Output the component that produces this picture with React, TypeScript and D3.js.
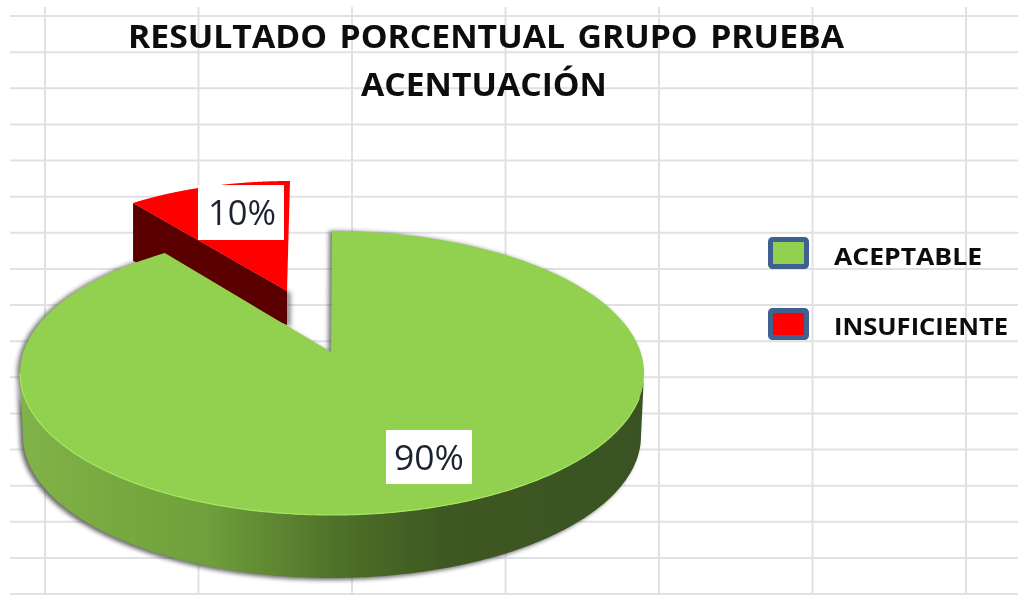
import * as d3 from 'd3';

const categories = ['ACEPTABLE', 'INSUFICIENTE'];
const values = [90, 10];
const valueLabels = ['90%', '10%'];
const sliceColors = ['#92d050', '#ff0000'];
const sideColors = ['#7db043', '#5a0000'];
const titleLines = ['RESULTADO  PORCENTUAL  GRUPO  PRUEBA', 'ACENTUACIÓN'];

const W = 1018;
const H = 595;
const toRad = Math.PI / 180;

// perspectiva a ojo: cada porción tiene su propia elipse
const greenPie = { cx: 332, cy: 373, rx: 312, ry: 142, apexX: 331, apexY: 352, depth: 63 };
const redPie = { cx: 290, cy: 296, rx: 267, ry: 115, apexX: 287, apexY: 291, depth: 34 };
// la perspectiva comprime el borde de la porción verde
const rimTrim = 3.6 * toRad;
// la base se ve un poco más estrecha que la cara superior
const baseInset = 3;

type Geo = typeof greenPie;

const rim = (g: Geo, a: number, dy = 0): [number, number] => [
  g.cx + g.rx * Math.sin(a),
  g.cy - g.ry * Math.cos(a) + dy,
];

const line = d3.line();

export default function App() {
  const x = d3.scaleLinear().domain([0, 6]).range([45, 966]);
  const y = d3.scaleLinear().domain([0, 16]).range([16, 594]);

  // 90% desde arriba en sentido horario, 10% cierra el círculo
  const arcs = d3.pie<number>().sort(null)(values);
  const green = arcs[0];
  const red = arcs[1];

  const greenEnd = green.endAngle + rimTrim;
  const sample = (g: Geo, a0: number, a1: number, dy = 0) =>
    d3.range(0, 201).map(i => rim(g, a0 + ((a1 - a0) * i) / 200, dy));

  const greenRim = sample(greenPie, green.startAngle, greenEnd);
  const greenTop = line([[greenPie.apexX, greenPie.apexY], ...greenRim]) + 'Z';

  // pared lateral: solo la mitad inferior de la elipse
  const basePie = { ...greenPie, rx: greenPie.rx - baseInset };
  const wallFront = sample(greenPie, 90 * toRad, 270 * toRad);
  const wallBack = sample(basePie, 270 * toRad, 90 * toRad, greenPie.depth);
  const wall = line([...wallFront, ...wallBack]) + 'Z';
  const frontEdge = line(sample(greenPie, 100 * toRad, 270 * toRad));

  const redRim = sample(redPie, red.startAngle - 2 * Math.PI, red.endAngle - 2 * Math.PI);
  const redTop = line([[redPie.apexX, redPie.apexY], ...redRim]) + 'Z';
  const redLeft = redRim[0];
  const redApex: [number, number] = [redPie.apexX, redPie.apexY];
  const redWall = line([
    redLeft,
    redApex,
    [redApex[0], redApex[1] + redPie.depth],
    [redLeft[0], redLeft[1] + redPie.depth + 24],
  ]) + 'Z';

  return (
    <svg
      width={W}
      height={H}
      viewBox={`0 0 ${W} ${H}`}
      style={{ position: 'absolute', left: 0, top: 0, background: '#fff' }}
    >
      <defs>
        <linearGradient id="wallGrad" gradientUnits="userSpaceOnUse" x1={20} x2={645} y1={0} y2={0}>
          <stop offset="0" stopColor="#80b347" />
          <stop offset="0.3" stopColor="#6f9f3b" />
          <stop offset="0.5" stopColor="#50722a" />
          <stop offset="0.68" stopColor="#3d5822" />
          <stop offset="1" stopColor="#3a5320" />
        </linearGradient>
        <filter id="blur" x="-10%" y="-10%" width="120%" height="120%">
          <feGaussianBlur stdDeviation="2" />
        </filter>
        {/* la referencia es una captura ampliada, algo borrosa */}
        <filter id="soft" filterUnits="userSpaceOnUse" x={0} y={0} width={W} height={H}>
          <feGaussianBlur stdDeviation="0.55" />
        </filter>
      </defs>

      <g filter="url(#soft)">
        {/* cuadrícula de la hoja */}
        <g stroke="#dfe1e3" strokeWidth={2}>
          {d3.range(0, 17).map(i => (
            <line key={i} x1={10} x2={W} y1={y(i)} y2={y(i)} />
          ))}
          {d3.range(0, 7).map(i => (
            <line key={i} x1={x(i)} x2={x(i)} y1={7} y2={H} />
          ))}
        </g>

        {/* sombras */}
        <path d={wall} fill="#444" opacity={0.8} filter="url(#blur)" transform="translate(-3,2)" />
        <path d={redWall} fill="#555" opacity={0.6} filter="url(#blur)" transform="translate(4,2)" />
        <path d={greenTop} fill="#444" opacity={0.7} filter="url(#blur)" transform="translate(-3,0)" />

        {/* porción roja */}
        <path d={redWall} fill={sideColors[1]} />
        <path d={redTop} fill={sliceColors[1]} />

        {/* porción verde */}
        <path d={wall} fill="url(#wallGrad)" />
        <path d={greenTop} fill={sliceColors[0]} />
        <path d={frontEdge ?? ''} fill="none" stroke="#a8e860" strokeWidth={1.2} />

        {/* etiquetas de datos */}
        <rect x={198} y={185} width={86} height={55} fill="#fff" />
        <text x={242} y={225} textAnchor="middle" fontFamily="Open Sans" fontSize={34} fill="#1c2430" textLength={68} lengthAdjust="spacingAndGlyphs">
          {valueLabels[1]}
        </text>
        <rect x={386} y={430} width={86} height={54} fill="#fff" />
        <text x={429} y={470} textAnchor="middle" fontFamily="Open Sans" fontSize={34} fill="#1c2430" textLength={70} lengthAdjust="spacingAndGlyphs">
          {valueLabels[0]}
        </text>

        {/* título */}
        <g fontFamily="Open Sans" fontWeight={700} fontSize={33} fill="#0a0a0a" style={{ whiteSpace: 'pre', wordSpacing: '-2.5px' }}>
          <text x={128} y={48} textLength={716} lengthAdjust="spacingAndGlyphs" xmlSpace="preserve">{titleLines[0]}</text>
          <text x={361} y={96} textLength={246} lengthAdjust="spacingAndGlyphs">{titleLines[1]}</text>
        </g>

        {/* leyenda */}
        {categories.map((c, i) => {
          const top = d3.scaleLinear().domain([0, 1]).range([239.5, 310.5])(i);
          const baseline = d3.scaleLinear().domain([0, 1]).range([265, 335])(i);
          return (
            <g key={c}>
              <rect x={770.5} y={top} width={36} height={27} rx={2} fill={sliceColors[i]} stroke="#3f6190" strokeWidth={5} />
              <text
                x={834}
                y={baseline}
                fontFamily="Open Sans"
                fontWeight={700}
                fontSize={24}
                fill="#0a0a0a"
                textLength={i === 0 ? 148 : 174}
                lengthAdjust="spacingAndGlyphs"
              >
                {c}
              </text>
            </g>
          );
        })}
      </g>
    </svg>
  );
}
